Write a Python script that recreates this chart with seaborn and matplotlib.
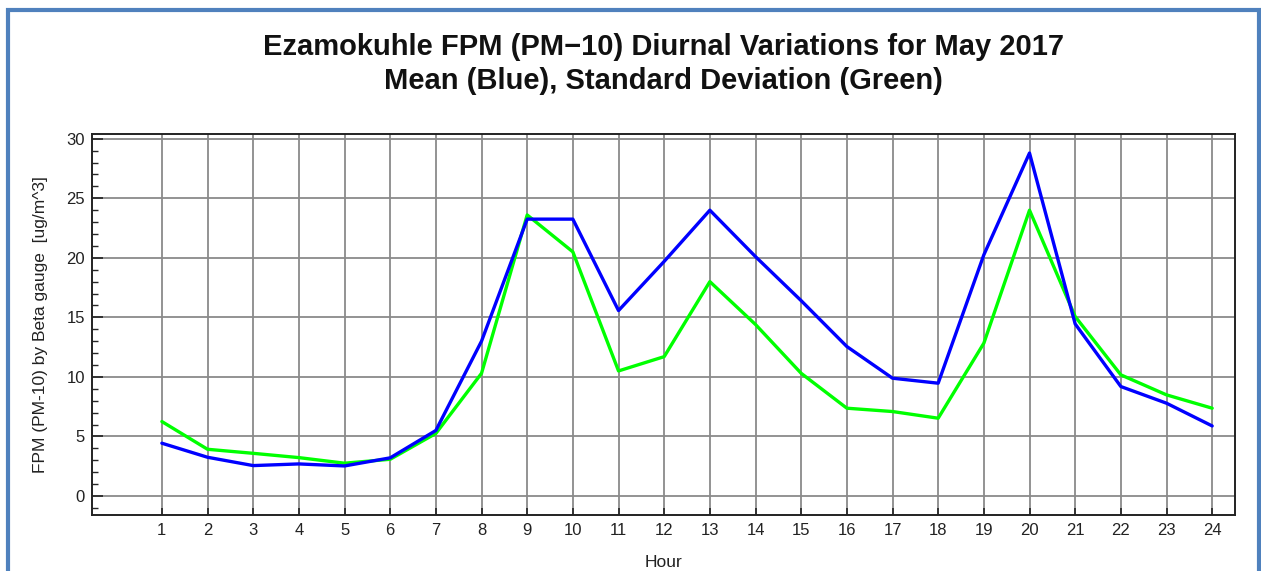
import matplotlib
matplotlib.use("Agg")
import matplotlib.pyplot as plt
import matplotlib.patches as mpatches
from matplotlib.ticker import MultipleLocator
import numpy as np
import pandas as pd
import seaborn as sns

hours = list(range(1, 25))
mean_vals = [4.43, 3.25, 2.55, 2.69, 2.52, 3.2, 5.5, 13.0, 23.25, 23.25, 15.57, 19.7,
             24.0, 20.1, 16.4, 12.55, 9.89, 9.47, 20.25, 28.8, 14.45, 9.19, 7.79, 5.88]
std_vals = [6.25, 3.92, 3.58, 3.22, 2.75, 3.08, 5.25, 10.3, 23.6, 20.5, 10.5, 11.7,
            18.0, 14.4, 10.3, 7.37, 7.09, 6.53, 12.83, 24.0, 15.07, 10.17, 8.49, 7.37]

title = "Ezamokuhle FPM (PM\u221210) Diurnal Variations for May 2017\nMean (Blue), Standard Deviation (Green)"
ylabel = "FPM (PM-10) by Beta gauge  [ug/m^3]"
xlabel = "Hour"

sns.set_theme(style="white")
plt.rcParams['font.family'] = ['Liberation Sans', 'DejaVu Sans']

df = pd.DataFrame({"Hour": hours, "Mean": mean_vals, "Std": std_vals})

fig = plt.figure(figsize=(12.61, 5.71), dpi=100)
ax = fig.add_axes([92/1261, 1 - 515/571, (1235 - 92)/1261, (515 - 134)/571])

sns.lineplot(data=df, x="Hour", y="Std", color="#00FF00", linewidth=2.4, ax=ax, zorder=3)
sns.lineplot(data=df, x="Hour", y="Mean", color="#0000FF", linewidth=2.4, ax=ax, zorder=4)

ax.set_xlim(-0.53, 24.5)
ax.set_ylim(-1.6, 30.4)
ax.set_xticks(hours)
ax.set_xticklabels([str(h) for h in hours])
ax.yaxis.set_major_locator(MultipleLocator(5))
ax.yaxis.set_minor_locator(MultipleLocator(1))
ax.grid(True, which="major", color="#8a8a8a", linewidth=1.3)
ax.set_axisbelow(True)
for s in ax.spines.values():
    s.set_color("#222222")
    s.set_linewidth(1.4)
ax.tick_params(axis="y", which="major", direction="in", length=8, width=1.2, left=True,
               labelsize=12, colors="#222222", pad=5)
ax.tick_params(axis="y", which="minor", direction="in", length=4, width=1.0, left=True)
ax.tick_params(axis="x", which="major", direction="in", length=5, width=1.2, bottom=True,
               labelsize=12, colors="#222222", pad=6)

ax.set_xlabel(xlabel, fontsize=12.5, color="#222222", labelpad=12)
ax.set_ylabel(ylabel, fontsize=12.5, color="#222222", labelpad=13)
fig.text((92 + 1235) / 2 / 1261, 1 - 64/571, title, ha="center", va="center",
         fontsize=21, fontweight="bold", linespacing=1.3, color="#111111")

frame = mpatches.Rectangle((8/1261, -0.2), (1259 - 8)/1261, 1.2 - 10/571,
                           transform=fig.transFigure, fill=False,
                           edgecolor="#4F81BD", linewidth=3, clip_on=False)
fig.patches.append(frame)

fig.savefig("out.png", dpi=100, facecolor="white")
